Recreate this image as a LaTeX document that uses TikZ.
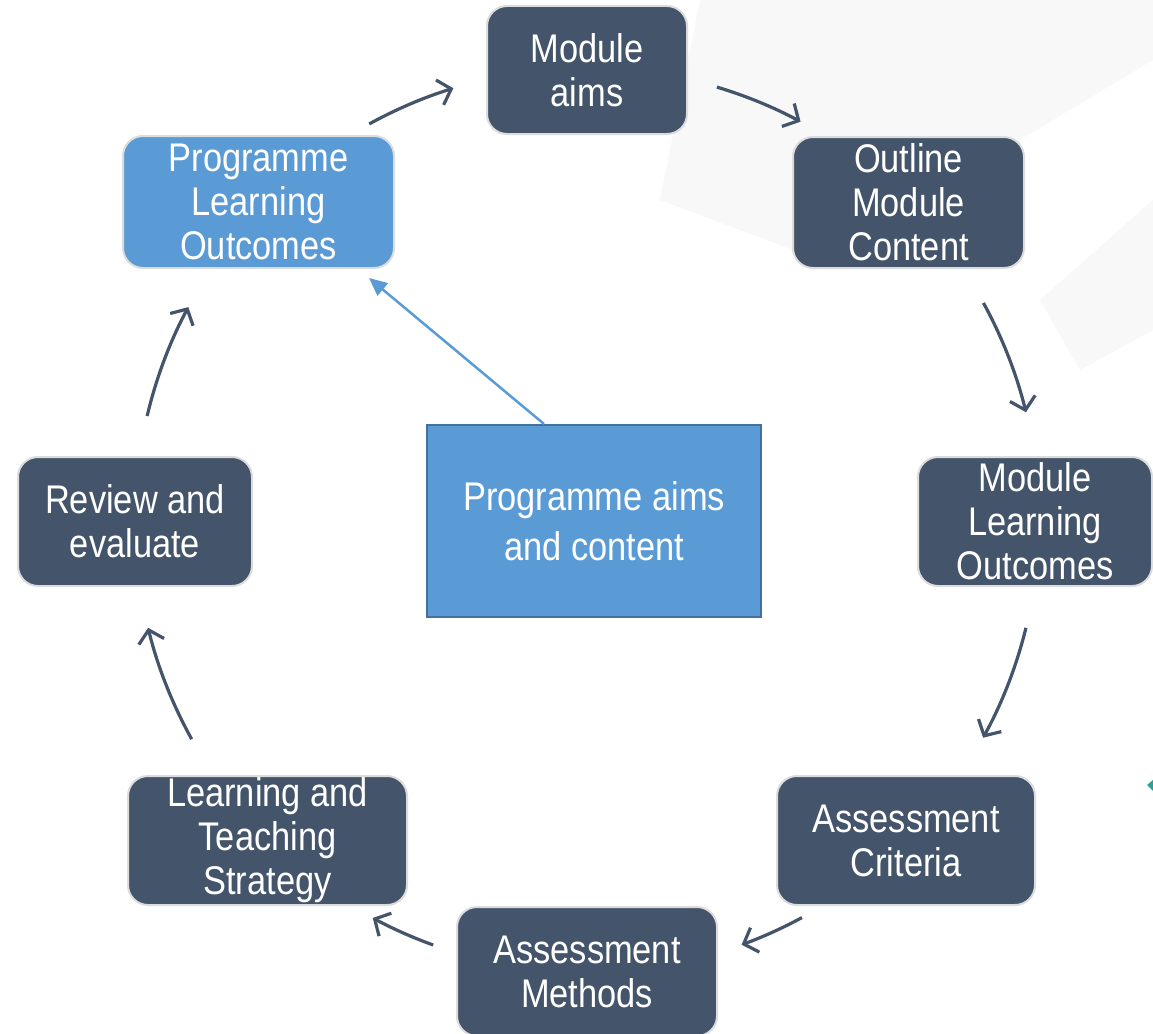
\documentclass[tikz,border=0pt]{standalone}
\usepackage{fontspec}
\setmainfont{Liberation Sans}[FakeStretch=0.86]
\usetikzlibrary{arrows.meta}

\definecolor{slate}{HTML}{44546A}
\definecolor{skyblue}{HTML}{5B9BD5}
\definecolor{skyedge}{HTML}{41719C}
\definecolor{rimgray}{HTML}{DCDCDC}
\definecolor{haze}{HTML}{F8F8F8}
\definecolor{tealmark}{HTML}{2AA198}

\tikzset{
  stage/.style={draw=rimgray, line width=2pt, fill=slate, rounded corners=20pt,
    text=white, align=center, inner sep=0pt,
    font=\fontsize{40}{44}\selectfont},
  stagehi/.style={stage, fill=skyblue},
  hub/.style={draw=skyedge, line width=2pt, fill=skyblue, text=white,
    align=center, inner sep=0pt, font=\fontsize{40}{50}\selectfont},
  cyc/.style={draw=slate, line width=3.2pt,
    -{Straight Barb[length=12pt,width=26pt]}},
  feed/.style={draw=skyblue, line width=2.5pt,
    -{Triangle[length=18pt,width=16pt]}}
}

\begin{document}
\begin{tikzpicture}[x=1pt,y=1pt]
  \useasboundingbox (0,0) rectangle (1153,-1033);
  \fill[white] (0,0) rectangle (1153,-1033);

  % faint diagonal sheen in the backdrop
  \fill[haze] (700,0) -- (1153,0) -- (1153,-60) -- (820,-260) -- (660,-200) -- cycle;
  \fill[haze] (1153,-200) -- (1153,-330) -- (1080,-370) -- (1040,-300) -- cycle;

  % small teal mark at the right margin
  \fill[tealmark] (1153,-780) -- (1147,-785) -- (1153,-791) -- cycle;

  % cycle stages
  \node[stage, minimum width=200pt, minimum height=128pt] (aims) at (587,-70) {Module\\aims};
  \node[stage, minimum width=231pt, minimum height=131pt] (omc) at (908.5,-202.5) {Outline\\Module\\Content};
  \node[stage, minimum width=234pt, minimum height=129pt] (mlo) at (1035,-521.5) {Module\\Learning\\Outcomes};
  \node[stage, minimum width=258pt, minimum height=129pt] (crit) at (906,-840.5) {Assessment\\Criteria};
  \node[stage, minimum width=260pt, minimum height=129pt] (meth) at (587,-971.5) {Assessment\\Methods};
  \node[stage, minimum width=279pt, minimum height=129pt] (lts) at (267.5,-840.5) {Learning and\\Teaching\\Strategy};
  \node[stage, minimum width=234pt, minimum height=129pt] (rev) at (135,-521.5) {Review and\\evaluate};
  \node[stagehi, minimum width=271pt, minimum height=132pt] (plo) at (258.5,-202) {Programme\\Learning\\Outcomes};

  % central source box
  \node[hub, minimum width=334pt, minimum height=192pt] (hubbox) at (594,-521) {Programme aims\\and content};

  % ring of arrows around the centre of the cycle
  \coordinate (ring) at (587,-520);
  \def\R{452}
  \draw[cyc] ([shift={(118.8:\R)}]ring) arc[start angle=118.8, end angle=107.2, radius=\R];
  \draw[cyc] ([shift={(73.3:\R)}]ring) arc[start angle=73.3, end angle=61.8, radius=\R];
  \draw[cyc] ([shift={(28.7:\R)}]ring) arc[start angle=28.7, end angle=13.8, radius=\R];
  \draw[cyc] ([shift={(-13.8:\R)}]ring) arc[start angle=-13.8, end angle=-28.8, radius=\R];
  \draw[cyc] ([shift={(-61.6:\R)}]ring) arc[start angle=-61.6, end angle=-70.0, radius=\R];
  \draw[cyc] ([shift={(-109.9:\R)}]ring) arc[start angle=-109.9, end angle=-118.3, radius=\R];
  \draw[cyc] ([shift={(-151:\R)}]ring) arc[start angle=-151, end angle=-166.2, radius=\R];
  \draw[cyc] ([shift={(166.7:\R)}]ring) arc[start angle=166.7, end angle=151.9, radius=\R];

  % feed from the central box to the programme outcomes
  \draw[feed] ([xshift=118pt]hubbox.north west) -- ([xshift=-26pt,yshift=-9pt]plo.south east);
\end{tikzpicture}
\end{document}
